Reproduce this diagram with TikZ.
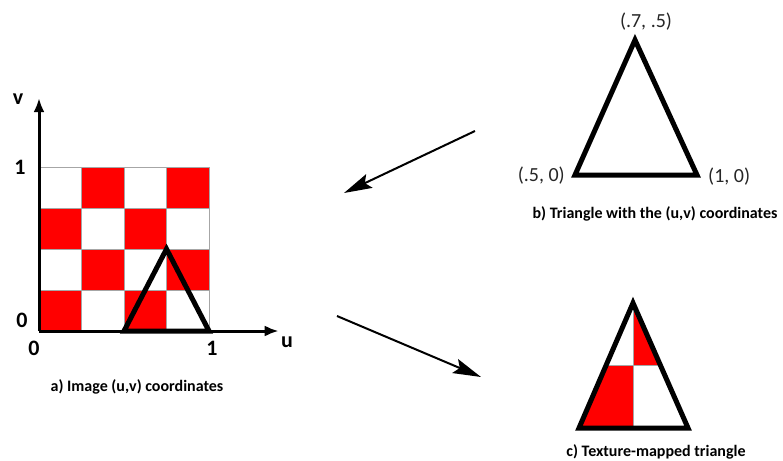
\documentclass[tikz,border=0pt]{standalone}
\usepackage{fontspec}
\setmainfont{Carlito}
\usetikzlibrary{arrows.meta}

\tikzstyle{every node}=[font=\fontsize{22pt}{26pt}\selectfont\bfseries, inner sep=0pt]
\tikzstyle{caption}=[font=\fontsize{16pt}{19pt}\selectfont\bfseries]
\tikzstyle{vertex}=[font=\fontsize{20pt}{24pt}\selectfont, text=black!85]
\tikzstyle{tri}=[line width=5pt, line join=miter]
\tikzstyle{axis}=[line width=3pt, -{Latex[length=14pt,width=11pt]}]
\tikzstyle{mapping}=[line width=2pt, -{Stealth[length=28pt,width=15pt,inset=5pt]}]
\tikzstyle{cell}=[draw=gray!70, line width=0.6pt]

\begin{document}
\begin{tikzpicture}[x=1pt,y=-1pt]
	            \useasboundingbox (0,0) rectangle (783,460);

	            % Obrazek (u,v) se sachovnici
	            \begin{scope}[shift={(39,331)}, x=170pt, y=164pt]
	            \foreach \i in {0,...,3}
	              \foreach \j in {0,...,3}{
	                \pgfmathtruncatemacro{\cellsum}{\i+\j}
	                \ifodd\cellsum \def\cellcol{white}\else\def\cellcol{red}\fi
	                \filldraw[cell, fill=\cellcol] (\i/4,\j/4) rectangle ++(0.25,0.25);
	              }

	            % Trojuhelnik v texture
	            \draw[tri] (0.5,0) -- (0.75,0.5) -- (1,0) -- cycle;

	            % Osy
	            \coordinate (O) at (0,0);
	            \coordinate (uend) at (1.41,0);
	            \coordinate (vend) at (0,1.42);
	            \draw[axis] (O) -- (uend);
	            \draw[axis] (O) -- (vend);
	            \end{scope}

	            % Popisky os
	            \node (vlab) at (18,99) {v};
	            \node (ulab) at (287,342) {u};
	            \node (v1) at (20,167) {1};
	            \node (v0) at (22,320) {0};
	            \node (u0) at (34,348) {0};
	            \node (u1) at (212,348) {1};
	            \node[caption] (capa) at (137,387) {a) Image (u,v) coordinates};

	            % Trojuhelnik b
	            \coordinate (bl) at (575,175);
	            \coordinate (br) at (697,175);
	            \coordinate (bt) at (635,40);
	            \draw[tri] (bl) -- (bt) -- (br) -- cycle;
	            \node[vertex] (btlab) at (646,22) {(.7, .5)};
	            \node[vertex, anchor=east] (bllab) at (565,176) {(.5, 0)};
	            \node[vertex, anchor=west] (brlab) at (708,177) {(1, 0)};
	            \node[caption] (capb) at (655,214) {b) Triangle with the (u,v) coordinates};

	            % Trojuhelnik c s namapovanou texturou
	            \coordinate (cl) at (579,428);
	            \coordinate (cr) at (688,428);
	            \coordinate (ct) at (633,303);
	            \begin{scope}
	            \clip (cl) -- (ct) -- (cr) -- cycle;
	            \fill[red] (560,365) rectangle (633,440);
	            \fill[red] (633,290) rectangle (700,365);
	            \draw[cell] (633,290) -- (633,440);
	            \draw[cell] (560,365) -- (700,365);
	            \end{scope}
	            \draw[tri] (cl) -- (ct) -- (cr) -- cycle;
	            \node[caption] (capc) at (656,452) {c) Texture-mapped triangle};

	            % Sipky
	            \coordinate (m1s) at (475,131);
	            \coordinate (m1e) at (344,193);
	            \coordinate (m2s) at (337,316);
	            \coordinate (m2e) at (481,377);
	            \draw[mapping] (m1s) -- (m1e);
	            \draw[mapping] (m2s) -- (m2e);
	        \end{tikzpicture}
\end{document}
